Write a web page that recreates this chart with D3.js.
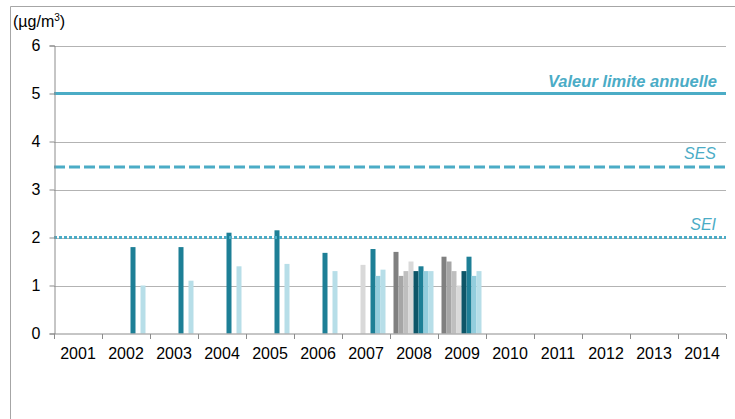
<!DOCTYPE html>
<html>
<head>
<meta charset="utf-8">
<script src="https://cdn.jsdelivr.net/npm/d3@7"></script>
<style>
  body { margin: 0; background: #fff; }
  text { font-family: "Liberation Sans", Arial, sans-serif; }
</style>
</head>
<body>
<div id="chart"></div>
<script>
// categories
const years = ["2001","2002","2003","2004","2005","2006","2007","2008","2009","2010","2011","2012","2013","2014"];

// series values, one per station (null = no measure)
const serie1 = [null,null,null,null,null,null,null,1.7,1.6,null,null,null,null,null];
const serie2 = [null,null,null,null,null,null,null,1.2,1.5,null,null,null,null,null];
const serie3 = [null,null,null,null,null,null,null,1.3,1.3,null,null,null,null,null];
const serie4 = [null,null,null,null,null,null,1.43,1.5,1.0,null,null,null,null,null];
const serie5 = [null,null,null,null,null,null,null,1.3,1.3,null,null,null,null,null];
const serie6 = [null,1.8,1.8,2.1,2.15,1.68,1.76,1.4,1.6,null,null,null,null,null];
const serie7 = [null,null,null,null,null,null,1.2,1.3,1.2,null,null,null,null,null];
const serie8 = [null,1.0,1.1,1.4,1.45,1.3,1.33,1.3,1.3,null,null,null,null,null];

const series = [serie1, serie2, serie3, serie4, serie5, serie6, serie7, serie8];
const colors = ["#808080","#a6a6a6","#bfbfbf","#d9d9d9","#0d5668","#1d7f96","#93cddd","#b7dee8"];

// reference thresholds
const seuils = [
  {name: "Valeur limite annuelle", value: 5, dash: null, bold: true},
  {name: "SES", value: 3.47, dash: "11,4", bold: false},
  {name: "SEI", value: 2, dash: "3,2", bold: false}
];
const yTicks = [0,1,2,3,4,5,6];

var width = 735, height = 419;
var margin = {top: 45.5, right: 9, bottom: 85.5, left: 54};

var svg = d3.select("#chart")
  .append("svg")
    .attr("width", width)
    .attr("height", height);

// outer frame (left and top only visible)
svg.append("path")
  .attr("d", "M10.5," + height + " V6.5 H" + width)
  .attr("fill", "none")
  .attr("stroke", "#a6a6a6");

var x = d3.scaleBand()
  .domain(years)
  .range([margin.left, width - margin.right]);

var xs = d3.scaleBand()
  .domain(d3.range(series.length))
  .range([3.5, x.bandwidth() - 4.5]);

var y = d3.scaleLinear()
  .domain([0, 6])
  .range([height - margin.bottom, margin.top]);

// gridlines
svg.append("g")
  .selectAll("line")
  .data(yTicks.slice(1))
  .enter()
  .append("line")
    .attr("x1", margin.left)
    .attr("x2", width - margin.right)
    .attr("y1", d => Math.round(y(d)) + 0.5)
    .attr("y2", d => Math.round(y(d)) + 0.5)
    .attr("stroke", "#b3b3b3")
    .attr("stroke-width", 1);

// bars
series.forEach(function(s, i) {
  svg.append("g")
    .attr("fill", colors[i])
    .selectAll("rect")
    .data(years.map((yr, j) => ({year: yr, v: s[j]})).filter(d => d.v != null))
    .enter()
    .append("rect")
      .attr("x", d => x(d.year) + xs(i))
      .attr("width", xs.bandwidth())
      .attr("y", d => y(d.v))
      .attr("height", d => y(0) - y(d.v));
});

// threshold lines
var seuil = svg.append("g")
  .selectAll("g")
  .data(seuils)
  .enter()
  .append("g");

seuil.append("line")
  .attr("x1", margin.left)
  .attr("x2", width - margin.right)
  .attr("y1", d => y(d.value))
  .attr("y2", d => y(d.value))
  .attr("stroke", "#4bacc6")
  .attr("stroke-width", 3)
  .attr("stroke-dasharray", d => d.dash);

seuil.append("text")
  .attr("x", d => d.bold ? 717 : 716)
  .attr("y", d => y(d.value) - (d.bold ? 7 : 8))
  .attr("text-anchor", "end")
  .attr("fill", "#4bacc6")
  .style("font-size", d => d.bold ? "16.5px" : "16px")
  .style("font-style", "italic")
  .style("font-weight", d => d.bold ? "bold" : "normal")
  .text(d => d.name);

// y axis
var yAxis = svg.append("g")
  .attr("transform", "translate(" + (margin.left + 0.5) + ",0)")
  .call(d3.axisLeft(y).tickValues(yTicks).tickSize(5).tickPadding(9).tickFormat(d3.format("d")));
yAxis.select(".domain").attr("stroke", "#8c8c8c");
yAxis.selectAll(".tick line").attr("stroke", "#8c8c8c");
yAxis.selectAll(".tick text")
  .attr("fill", "#000")
  .style("font-size", "16px")
  .style("font-family", "'Liberation Sans', Arial, sans-serif");

// x axis: tick marks at category boundaries
var xAxis = svg.append("g")
  .attr("transform", "translate(0," + (y(0) + 0.5) + ")");
xAxis.append("line")
  .attr("x1", margin.left)
  .attr("x2", width - margin.right)
  .attr("stroke", "#8c8c8c");
xAxis.selectAll("line.sep")
  .data(years.map(d => x(d)).concat([width - margin.right]))
  .enter()
  .append("line")
    .attr("class", "sep")
    .attr("x1", d => Math.round(d) + 0.5)
    .attr("x2", d => Math.round(d) + 0.5)
    .attr("y1", 0)
    .attr("y2", 5)
    .attr("stroke", "#8c8c8c");
xAxis.selectAll("text")
  .data(years)
  .enter()
  .append("text")
    .attr("x", d => x(d) + x.bandwidth() / 2)
    .attr("y", 25)
    .attr("text-anchor", "middle")
    .style("font-size", "16px")
    .attr("fill", "#000")
    .text(d => d);

// unit
var unit = svg.append("text")
  .attr("x", 13)
  .attr("y", 27)
  .style("font-size", "16px")
  .attr("fill", "#000");
unit.append("tspan").text("(µg/m");
unit.append("tspan").attr("dy", -6).style("font-size", "10px").text("3");
unit.append("tspan").attr("dy", 6).text(")");
</script>
</body>
</html>
